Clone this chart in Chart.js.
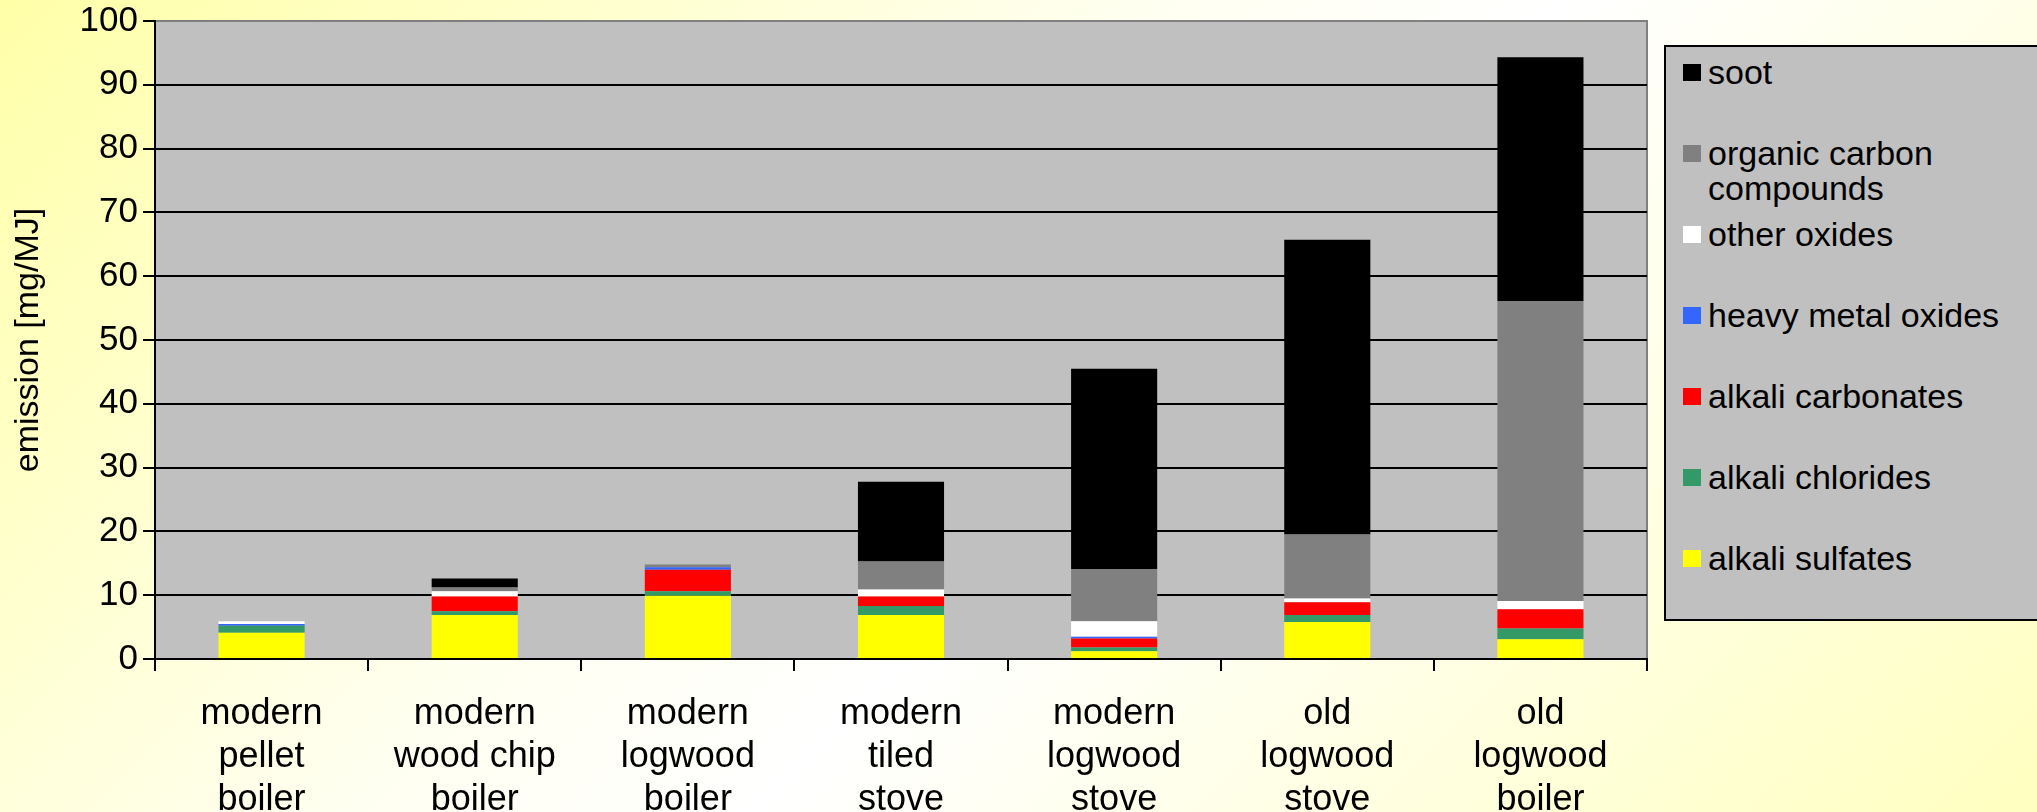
<!DOCTYPE html>
<html>
<head>
<meta charset="utf-8">
<script src="https://cdn.jsdelivr.net/npm/chart.js@4.4.0/dist/chart.umd.min.js"></script>
<style>
html, body { margin: 0; padding: 0; width: 2037px; height: 812px; overflow: hidden; }
body {
	background: linear-gradient(135deg, #ffffa8 0%, #fffff0 40%, #ffffff 55%, #ffffc0 100%);
	font-family: "Liberation Sans", Arial, sans-serif;
	position: relative;
}
#emissionChart { position: absolute; left: 0; top: 0; }
#legend {
	position: absolute; left: 1664px; top: 45px; width: 420px; height: 576px;
	box-sizing: border-box; background: #c0c0c0; border: 2px solid #000;
}
.item { position: absolute; left: 0; width: 400px; }
.swatch { position: absolute; left: 17px; top: 9px; width: 18px; height: 17px; }
.label { position: absolute; left: 42px; top: 0; width: 330px; font-size: 34px; line-height: 35px; color: #000; }
</style>
</head>
<body>
<canvas id="emissionChart" width="2037" height="812"></canvas>
<div id="legend"></div>
<script>
// categories (stack order bottom -> top)
const categories = [
	['modern', 'pellet', 'boiler'],
	['modern', 'wood chip', 'boiler'],
	['modern', 'logwood', 'boiler'],
	['modern', 'tiled', 'stove'],
	['modern', 'logwood', 'stove'],
	['old', 'logwood', 'stove'],
	['old', 'logwood', 'boiler']
];
const alkaliSulfates    = [4.1, 6.9, 9.9, 6.9, 1.2, 5.8, 3.1];
const alkaliChlorides   = [1.1, 0.6, 0.7, 1.4, 0.6, 1.1, 1.7];
const alkaliCarbonates  = [0.0, 2.3, 3.4, 1.5, 1.4, 2.0, 3.0];
const heavyMetalOxides  = [0.3, 0.0, 0.4, 0.0, 0.3, 0.0, 0.0];
const otherOxides       = [0.4, 0.8, 0.0, 1.1, 2.4, 0.6, 1.3];
const organicCarbon     = [0.0, 0.6, 0.4, 4.4, 8.2, 10.0, 47.0];
const soot              = [0.0, 1.4, 0.0, 12.5, 31.4, 46.2, 38.2];
const yTicks = [0, 10, 20, 30, 40, 50, 60, 70, 80, 90, 100];

const seriesNames = ['alkali sulfates', 'alkali chlorides', 'alkali carbonates', 'heavy metal oxides', 'other oxides', 'organic carbon compounds', 'soot'];
const seriesData = [alkaliSulfates, alkaliChlorides, alkaliCarbonates, heavyMetalOxides, otherOxides, organicCarbon, soot];
const seriesColors = ['#ffff00', '#339966', '#ff0000', '#3366ff', '#ffffff', '#808080', '#000000'];

const fontFamily = '"Liberation Sans", Arial, sans-serif';

var datasets = seriesNames.map(function(name, i) {
	return {
		label: name,
		data: seriesData[i],
		backgroundColor: seriesColors[i],
		borderWidth: 0,
		barPercentage: 0.404,
		categoryPercentage: 1.0
	};
});

// grey plot area with grey top/right frame
const plotBg = {
	id: 'plotBg',
	beforeDraw(chart) {
		const a = chart.chartArea;
		const c = chart.ctx;
		c.save();
		c.fillStyle = '#c0c0c0';
		c.fillRect(a.left, a.top, a.right - a.left, a.bottom - a.top);
		c.strokeStyle = '#808080';
		c.lineWidth = 2;
		c.beginPath();
		c.moveTo(a.left, a.top);
		c.lineTo(a.right, a.top);
		c.lineTo(a.right, a.bottom);
		c.stroke();
		c.restore();
	}
};

new Chart(document.getElementById('emissionChart').getContext('2d'), {
	type: 'bar',
	data: { labels: categories, datasets: datasets },
	options: {
		responsive: false,
		animation: false,
		devicePixelRatio: 1,
		layout: { padding: { top: 21, right: 390, left: 0, bottom: 0 } },
		plugins: { legend: { display: false }, tooltip: { enabled: false } },
		scales: {
			x: {
				stacked: true,
				grid: { offset: true, drawOnChartArea: false, drawTicks: true, tickLength: 12, color: '#000', lineWidth: 2 },
				border: { color: '#000', width: 2 },
				ticks: { color: '#000', font: { family: fontFamily, size: 36, lineHeight: 1.2 }, padding: 21, maxRotation: 0, autoSkip: false },
				afterFit: function(s) { s.height = 153; }
			},
			y: {
				stacked: true,
				min: 0,
				max: 100,
				afterBuildTicks: function(s) { s.ticks = yTicks.map(function(v) { return { value: v }; }); },
				grid: {
					color: function(c) { return c.tick && c.tick.value === 100 ? '#808080' : '#000'; },
					tickColor: '#000',
					lineWidth: 2,
					tickLength: 12
				},
				border: { color: '#000', width: 2 },
				ticks: { color: '#000', font: { family: fontFamily, size: 35 }, padding: 5 },
				title: { display: true, text: 'emission [mg/MJ]', color: '#000', font: { family: fontFamily, size: 34 }, padding: { top: 8 } },
				afterFit: function(s) { s.width = 155; s.paddingTop = 0; s.paddingBottom = 0; }
			}
		}
	},
	plugins: [plotBg]
});

// legend box, top entry = top of stack
var legend = document.getElementById('legend');
for (let k = 0; k < seriesNames.length; k++) {
	const i = seriesNames.length - 1 - k;
	const item = document.createElement('div');
	item.className = 'item';
	item.style.top = (8 + k * 81) + 'px';
	const sw = document.createElement('div');
	sw.className = 'swatch';
	sw.style.background = seriesColors[i];
	const lb = document.createElement('div');
	lb.className = 'label';
	lb.textContent = seriesNames[i];
	item.appendChild(sw);
	item.appendChild(lb);
	legend.appendChild(item);
}
</script>
</body>
</html>
